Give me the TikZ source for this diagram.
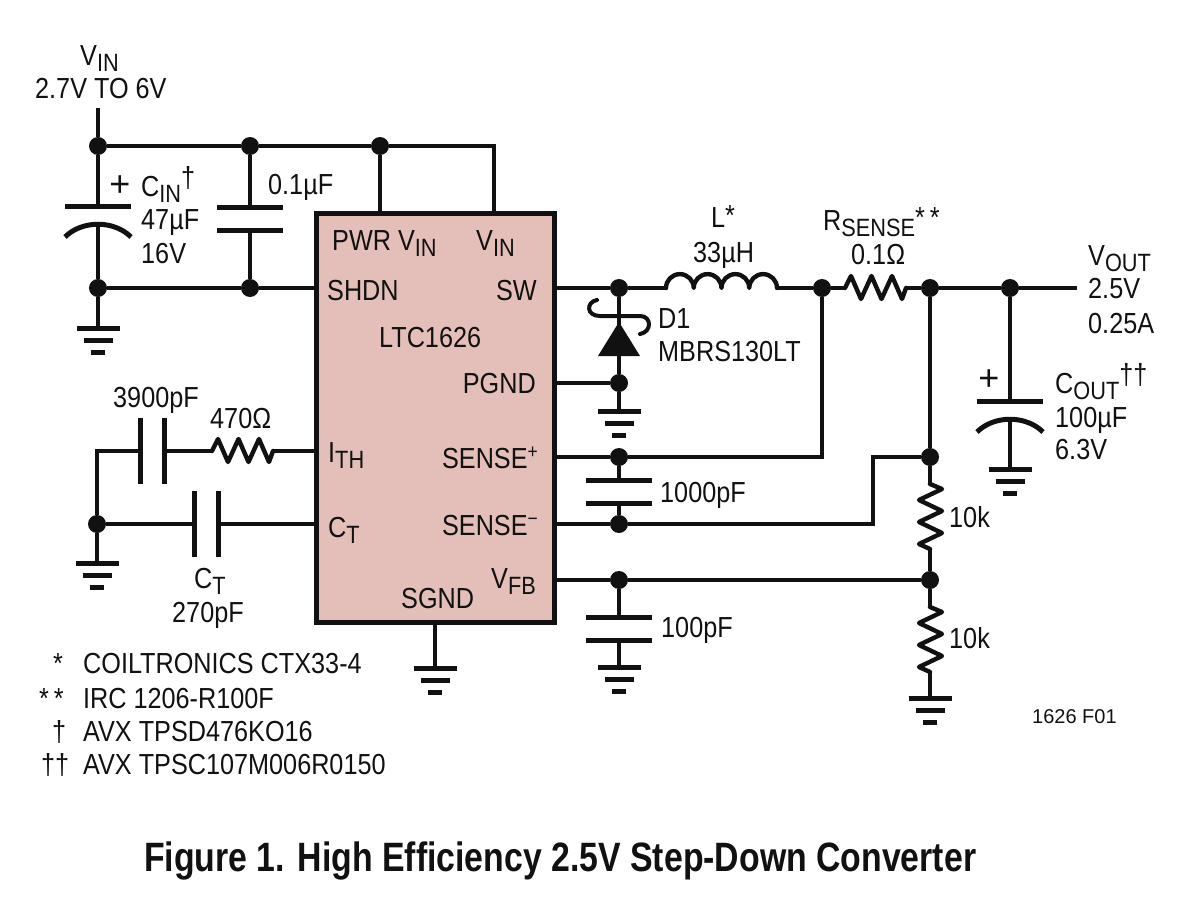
\documentclass[tikz,border=0pt]{standalone}
\usepackage{fontspec}
\setmainfont[FakeStretch=0.87]{Liberation Sans}
\newfontfamily\plainf{Liberation Sans}
\newfontfamily\capf[FakeStretch=0.825]{Liberation Sans}
\usetikzlibrary{calc}
\definecolor{icpink}{HTML}{E4BFB9}
\definecolor{ink}{HTML}{111111}
\newcommand\Sb[1]{\raisebox{-6.5pt}{\fontsize{25}{25}\selectfont #1}}
\newcommand\Sp[1]{\raisebox{9pt}{#1}}
\newcommand\mylead{\fontsize{29}{29}\selectfont}
\tikzset{
  x=1pt,y=-1pt,
  wire/.style={line width=4.6pt,draw=ink,line cap=butt,line join=miter},
  plate/.style={line width=5pt,draw=ink},
  zig/.style={line width=4.4pt,draw=ink,line join=round,line cap=round},
  dot/.style={circle,fill=ink,draw=none,inner sep=0pt,minimum size=18pt},
  lab/.style={anchor=base west,inner sep=0pt,text=ink,font=\mylead},
  labr/.style={anchor=base east,inner sep=0pt,text=ink,font=\mylead},
  ic/.style={draw=ink,fill=icpink,line width=5pt,inner sep=0pt,minimum width=238pt,minimum height=409pt},
}
\newcommand\gnd[1]{%
  \draw[plate] ($(#1)+(-21.5,0)$) -- ($(#1)+(21.5,0)$);
  \draw[plate] ($(#1)+(-14.5,12)$) -- ($(#1)+(14.5,12)$);
  \draw[plate] ($(#1)+(-7,24)$) -- ($(#1)+(7,24)$);
}
\newcommand\polcap[1]{% top plate at #1, curved plate below
  \draw[plate] ($(#1)+(-33,0)$) -- ($(#1)+(33,0)$);
  \draw[plate] ($(#1)+(-33,31)$) .. controls ($(#1)+(-16,14)$) and ($(#1)+(16,14)$) .. ($(#1)+(33,31)$);
}
\newcommand\hcap[1]{% top plate at #1, bottom 23 below
  \draw[plate] ($(#1)+(-33,0)$) -- ($(#1)+(33,0)$);
  \draw[plate] ($(#1)+(-33,23)$) -- ($(#1)+(33,23)$);
}
\newcommand\vcap[1]{% left plate centred at #1, right plate 24 to the right
  \draw[plate] ($(#1)+(0,-33)$) -- ($(#1)+(0,33)$);
  \draw[plate] ($(#1)+(24,-33)$) -- ($(#1)+(24,33)$);
}
\begin{document}
\begin{tikzpicture}
\useasboundingbox (0,0) rectangle (1195,902);
% IC
\node[ic] (u) at (435,417.5) {};
% junctions
\node[dot] (j1) at (98,146) {};
\node[dot] (j2) at (250,146) {};
\node[dot] (j3) at (380,146) {};
\node[dot] (j4) at (98,288) {};
\node[dot] (j5) at (250,288) {};
\node[dot] (j6) at (619,288) {};
\node[dot] (j7) at (822,288) {};
\node[dot] (j8) at (930,288) {};
\node[dot] (j9) at (1010,288) {};
\node[dot] (j10) at (619,383) {};
\node[dot] (j11) at (619,457) {};
\node[dot] (j12) at (619,524) {};
\node[dot] (j13) at (619,580) {};
\node[dot] (j14) at (930,457) {};
\node[dot] (j15) at (930,580) {};
\node[dot] (j16) at (97,524) {};
% free ends and component terminals
\coordinate (vin) at (98,108);
\coordinate (vout) at (1077,288);
\coordinate (cint) at (98,206);
\coordinate (cinb) at (98,223);
\coordinate (c01t) at (250,207);
\coordinate (c01b) at (250,230);
\coordinate (g1) at (98,328);
\coordinate (g2) at (619,411);
\coordinate (g3) at (1010,469);
\coordinate (g4) at (619,667);
\coordinate (g5) at (435,668);
\coordinate (g6) at (930,698);
\coordinate (g7) at (97,563);
\coordinate (coutt) at (1010,401);
\coordinate (coutb) at (1010,419);
\coordinate (c1kt) at (619,480);
\coordinate (c1kb) at (619,503);
\coordinate (c100t) at (619,617);
\coordinate (c100b) at (619,640);
\coordinate (pwr) at (380,213);
\coordinate (vinp) at (494,213);
\coordinate (topr) at (494,146);
\coordinate (shdn) at (316,288);
\coordinate (sw) at (554,288);
\coordinate (pgnd) at (554,383);
\coordinate (ith) at (316,451);
\coordinate (ctp) at (316,524);
\coordinate (sensep) at (554,457);
\coordinate (sensem) at (554,524);
\coordinate (vfb) at (554,580);
\coordinate (sgnd) at (435,622);
\coordinate (lin) at (666,288);
\coordinate (lout) at (777,288);
\coordinate (rsin) at (845,288);
\coordinate (rsout) at (906,288);
\coordinate (r1t) at (930,484);
\coordinate (r1b) at (930,549);
\coordinate (r2t) at (930,607);
\coordinate (r2b) at (930,672);
\coordinate (r3r) at (273,451);
\coordinate (r3l) at (212,451);
\coordinate (c39l) at (140,451);
\coordinate (c39r) at (164,451);
\coordinate (cctl) at (194,524);
\coordinate (cctr) at (218,524);
\coordinate (k1) at (97,451);
\coordinate (k2) at (822,457);
\coordinate (k3) at (873,457);
\coordinate (k4) at (873,524);
\coordinate (dtop) at (619,322);
% wires
\draw[wire] (vin) -- (j1);
\draw[wire] (j1) -- (j2);
\draw[wire] (j2) -- (j3);
\draw[wire] (j3) -- (topr) -- (vinp);
\draw[wire] (j3) -- (pwr);
\draw[wire] (j1) -- (cint);
\draw[wire] (cinb) -- (j4);
\draw[wire] (j2) -- (c01t);
\draw[wire] (c01b) -- (j5);
\draw[wire] (j4) -- (j5);
\draw[wire] (j5) -- (shdn);
\draw[wire] (j4) -- (g1);
\draw[wire] (sw) -- (j6);
\draw[wire] (j6) -- (lin);
\draw[wire] (lout) -- (j7);
\draw[wire] (j7) -- (rsin);
\draw[wire] (rsout) -- (j8);
\draw[wire] (j8) -- (j9);
\draw[wire] (j9) -- (vout);
\draw[wire] (j6) -- (dtop);
\draw[wire] (dtop) -- (j10);
\draw[wire] (pgnd) -- (j10);
\draw[wire] (j10) -- (g2);
\draw[wire] (j9) -- (coutt);
\draw[wire] (coutb) -- (g3);
\draw[wire] (j8) -- (j14);
\draw[wire] (j14) -- (r1t);
\draw[wire] (r1b) -- (j15);
\draw[wire] (j15) -- (r2t);
\draw[wire] (r2b) -- (g6);
\draw[wire] (sensep) -- (j11);
\draw[wire] (j11) -- (k2) -- (j7);
\draw[wire] (sensem) -- (j12);
\draw[wire] (j12) -- (k4) -- (k3) -- (j14);
\draw[wire] (vfb) -- (j13);
\draw[wire] (j13) -- (j15);
\draw[wire] (j11) -- (c1kt);
\draw[wire] (c1kb) -- (j12);
\draw[wire] (j13) -- (c100t);
\draw[wire] (c100b) -- (g4);
\draw[wire] (sgnd) -- (g5);
\draw[wire] (ith) -- (r3r);
\draw[wire] (r3l) -- (c39r);
\draw[wire] (c39l) -- (k1) -- (j16);
\draw[wire] (j16) -- (cctl);
\draw[wire] (cctr) -- (ctp);
\draw[wire] (j16) -- (g7);
% capacitors
\polcap{cint}
\hcap{c01t}
\polcap{coutt}
\hcap{c1kt}
\hcap{c100t}
\vcap{c39l}
\vcap{cctl}
% grounds
\gnd{g1}\gnd{g2}\gnd{g3}\gnd{g4}\gnd{g5}\gnd{g6}\gnd{g7}
% inductor (the y axis points down, so the humps run through 270 degrees)
\draw[zig] (lin) arc[start angle=180,end angle=360,radius=13.875]
  arc[start angle=180,end angle=360,radius=13.875]
  arc[start angle=180,end angle=360,radius=13.875]
  arc[start angle=180,end angle=360,radius=13.875];
% resistors
\draw[zig] (rsin) -- ++(6,-12) -- ++(10,23) -- ++(10.5,-23) -- ++(10,23) -- ++(10.5,-23) -- ++(10,23) -- (rsout);
\draw[zig] (r3l) -- ++(6,-12) -- ++(10,23) -- ++(10.5,-23) -- ++(10,23) -- ++(10.5,-23) -- ++(10,23) -- (r3r);
\draw[zig] (r1t) -- ++(12,5) -- ++(-23,11) -- ++(23,11) -- ++(-23,11) -- ++(23,11) -- ++(-23,11) -- (r1b);
\draw[zig] (r2t) -- ++(12,5) -- ++(-23,11) -- ++(23,11) -- ++(-23,11) -- ++(23,11) -- ++(-23,11) -- (r2b);
% diode
\fill[ink] (dtop) -- (640,356) -- (598,356) -- cycle;
\draw[line width=4pt,draw=ink,line cap=round] (597,300) .. controls (586,302) and (586,316) .. (600,316) -- (640,316) .. controls (652,316) and (652,332) .. (640,334);
% polarity marks
\node[inner sep=0pt,text=ink,font=\plainf\fontsize{36}{36}\selectfont] (pl1) at (120,186) {+};
\node[inner sep=0pt,text=ink,font=\plainf\fontsize{36}{36}\selectfont] (pl2) at (989,380) {+};
% labels
\node[lab] (t1) at (80,65) {V\Sb{IN}};
\node[lab] (t2) at (35,98) {2.7V TO 6V};
\node[lab] (t3) at (141,196) {C\Sb{IN}\Sp{†}};
\node[lab] (t4) at (141,229) {47µF};
\node[lab] (t5) at (141,263) {16V};
\node[lab] (t6) at (268,194) {0.1µF};
\node[lab] (t7) at (332,250) {PWR V\Sb{IN}};
\node[lab] (t8) at (476,250) {V\Sb{IN}};
\node[lab] (t9) at (327,300) {SHDN};
\node[labr] (t10) at (537,300) {SW};
\node[lab] (t11) at (379,347) {LTC1626};
\node[labr] (t12) at (536,393) {PGND};
\node[lab] (t13) at (328,462) {I\Sb{TH}};
\node[labr] (t14) at (538,468) {SENSE\raisebox{10pt}{\fontsize{20}{20}\selectfont +}};
\node[lab] (t15) at (328,537) {C\Sb{T}};
\node[labr] (t16) at (538,535) {SENSE\raisebox{10pt}{\fontsize{20}{20}\selectfont −}};
\node[labr] (t17) at (536,588) {V\Sb{FB}};
\node[lab] (t18) at (401,608) {SGND};
\node[lab] (t19) at (711,227) {L\raisebox{2pt}{*}};
\node[lab] (t20) at (693,262) {33µH};
\node[lab] (t21) at (658,328) {D1};
\node[lab] (t22) at (658,361) {MBRS130LT};
\node[lab] (t23) at (823,230) {R\Sb{SENSE}\raisebox{3pt}{*\,*}};
\node[lab] (t24) at (851,264) {0.1Ω};
\node[lab] (t25) at (1088,265) {V\Sb{OUT}};
\node[lab] (t26) at (1088,298) {2.5V};
\node[lab] (t27) at (1088,333) {0.25A};
\node[lab] (t28) at (1055,393) {C\Sb{OUT}\Sp{††}};
\node[lab] (t29) at (1055,427) {100µF};
\node[lab] (t30) at (1055,459) {6.3V};
\node[lab] (t31) at (660,502) {1000pF};
\node[lab] (t32) at (949,527) {10k};
\node[lab] (t33) at (949,648) {10k};
\node[lab] (t34) at (661,637) {100pF};
\node[lab] (t35) at (113,407) {3900pF};
\node[lab] (t36) at (210,428) {470Ω};
\node[lab] (t37) at (194,588) {C\Sb{T}};
\node[lab] (t38) at (172,622) {270pF};
\node[lab] (t39) at (53,673) {*};
\node[lab] (t40) at (83,673) {COILTRONICS CTX33-4};
\node[lab] (t41) at (39,708) {*\,*};
\node[lab] (t42) at (83,708) {IRC 1206-R100F};
\node[lab] (t43) at (52,741) {†};
\node[lab] (t44) at (83,741) {AVX TPSD476KO16};
\node[lab] (t45) at (41,774) {††};
\node[lab] (t46) at (83,774) {AVX TPSC107M006R0150};
\node[lab,font=\plainf\fontsize{20}{20}\selectfont] (t47) at (1032,723) {1626 F01};
\node[lab,font=\capf\bfseries\fontsize{41}{41}\selectfont] (t48) at (144,871) {Figure 1. High Efficiency 2.5V Step-Down Converter};
\end{tikzpicture}
\end{document}
